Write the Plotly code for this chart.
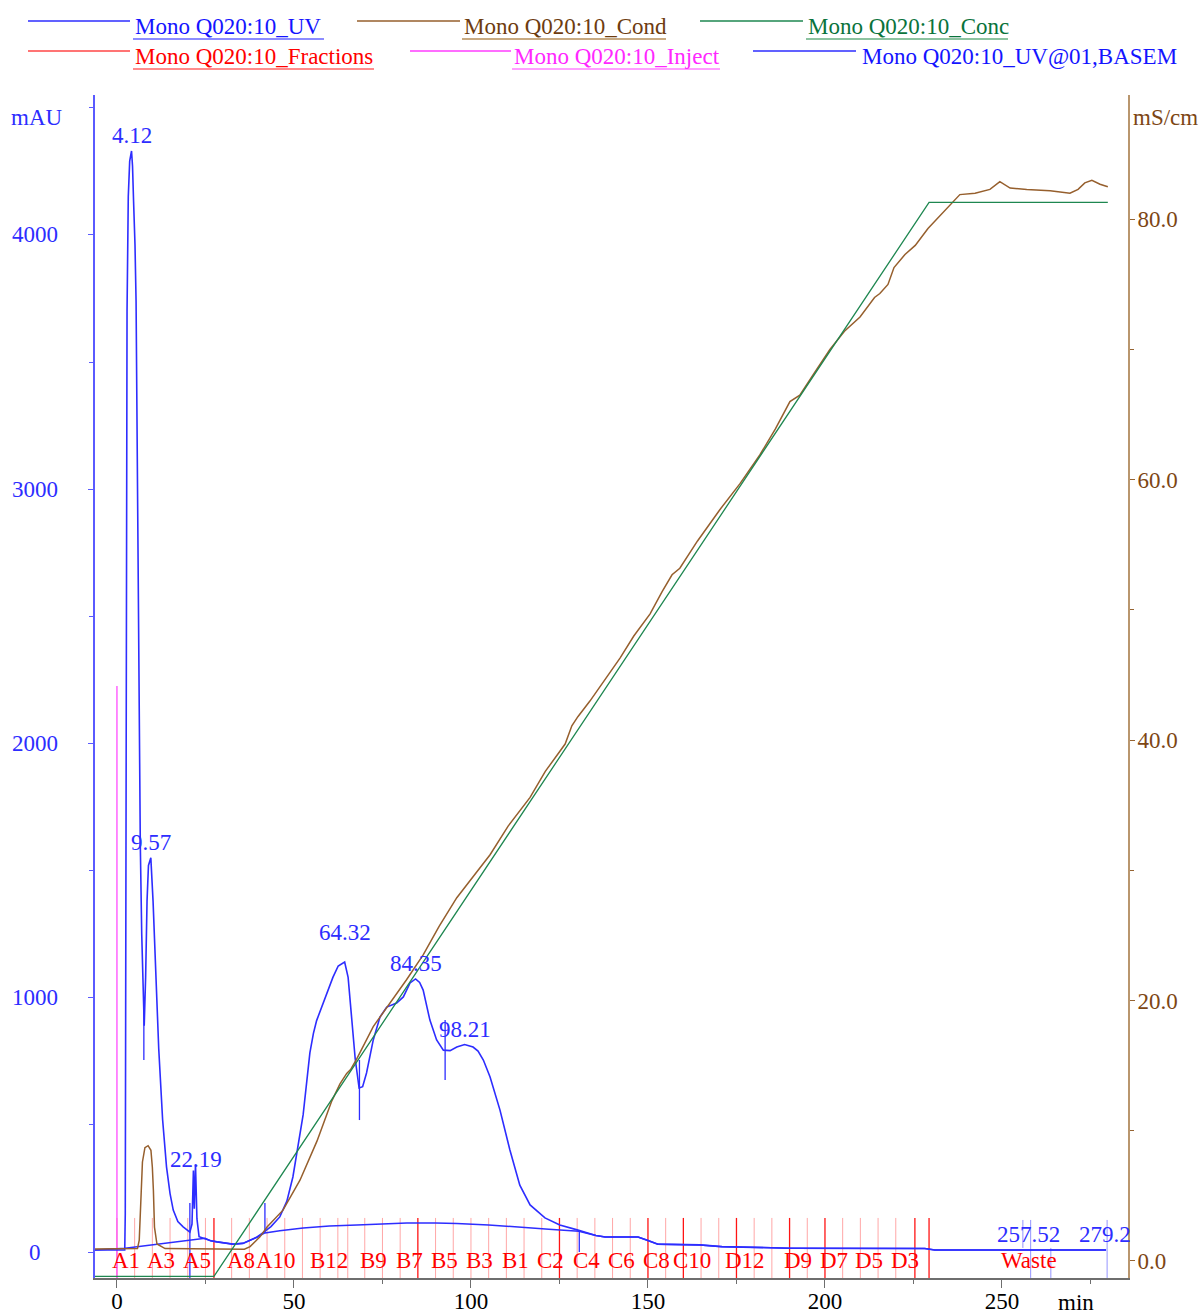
import numpy as np
import plotly.graph_objects as go

# ---------------- run data: Mono Q 5/50 GL, 280 nm ----------------
# UV absorbance (min, mAU)
uv_time = [-6.2, 2.2, 2.35, 2.5, 2.65, 2.85, 3.2, 3.6, 4.12, 4.4, 4.7, 5.1, 5.4, 5.8, 6.2,
           6.6, 7.0, 7.4, 7.7, 8.1, 8.5, 8.9, 9.57, 10.2, 11.0, 11.8, 12.9, 14.0, 15.0, 15.9,
           17.2, 18.7, 20.6, 21.2, 21.6, 21.85, 22.19, 22.6, 23.2, 24.9, 26.5, 28.2, 30.5,
           32.8, 35.6, 37.6, 39.5, 41.2, 43.5, 46.0, 48.0, 49.7, 51.0, 51.7, 52.6, 54.5, 55.5,
           56.4, 57.8, 59.5, 61.0, 62.5, 64.32, 65.3, 66.2, 67.3, 68.4, 69.4, 70.5, 72.4, 74.3,
           76.2, 79.0, 80.9, 82.8, 84.35, 85.5, 86.5, 88.4, 90.3, 92.2, 94.1, 96.0, 98.21,
           100.6, 102.0, 103.5, 105.4, 108.2, 111.0, 113.8, 116.7, 120.9, 125.1, 130.0, 135.3,
           137.9, 147.2, 150.0, 152.8, 164.7, 170.9, 190.1, 228.2, 231.0, 279.4]
uv_mau = [8, 8, 150, 1000, 2500, 3700, 4150, 4290, 4330, 4270, 4130, 3960, 3740, 3000, 2200,
          1600, 1250, 1000, 890, 1080, 1380, 1520, 1550, 1380, 1100, 800, 520, 335, 230, 165,
          120, 99, 78, 110, 320, 170, 345, 130, 60, 52, 44, 40, 35,
          31, 34, 45, 58, 75, 100, 138, 200, 295, 400, 468, 540, 783, 860,
          910, 960, 1020, 1080, 1125, 1140, 1080, 950, 760, 645, 650, 704, 834, 924,
          963, 979, 1003, 1058, 1074, 1060, 1030, 912, 834, 794, 792, 806, 816,
          806, 790, 755, 688, 558, 401, 263, 185, 134, 106, 87, 65,
          59, 59, 45, 31, 28, 21, 15, 14, 8, 8]

# Integration baseline (min, mAU)
base_time = [-6.2, 2.3, 24.9, 26.5, 28.2, 30.5, 32.8, 35.6, 37.6, 39.5, 41.8, 46.0, 52.6, 60.0,
             67.8, 75.0, 81.9, 90.0, 96.0, 105.0, 114.7, 122.0, 130.5, 135.3, 137.9, 147.2,
             150.0, 152.8, 164.7, 170.9, 190.1, 228.2, 231.0, 279.4]
base_mau = [8, 15, 54, 44, 40, 35, 31, 34, 45, 58, 75, 84, 94, 102,
            106, 111, 114, 114, 112, 106, 98, 90, 82, 65, 59, 59,
            45, 31, 28, 21, 15, 14, 8, 8]

# Conductivity (min, mS/cm)
cond_time = [-6.2, 5.8, 6.3, 6.8, 7.2, 7.9, 8.8, 9.6, 10.0, 10.3, 10.6, 11.3, 13.6, 36.0, 37.6,
             40.4, 42.4, 46.9, 51.7, 56.5, 60.7, 63.0, 64.9, 66.0, 67.7, 72.4, 77.1, 81.8, 86.5,
             91.0, 96.0, 100.5, 105.4, 110.5, 116.7, 121.0, 126.6, 128.5, 130.2, 133.6, 138.0,
             142.1, 146.0, 150.6, 154.0, 156.8, 159.0, 164.0, 170.3, 176.0, 181.6, 186.0, 190.1,
             192.9, 197.0, 201.4, 205.5, 209.9, 214.0, 215.5, 217.8, 219.5, 222.6, 225.5, 229.1,
             233.9, 238.1, 242.4, 246.6, 249.4, 252.3, 257.0, 263.6, 269.2, 271.5, 273.4, 275.4,
             277.7, 279.9]
cond_ms = [0.92, 0.95, 1.6, 4.7, 7.6, 8.7, 8.85, 8.5, 7.2, 5.4, 2.6, 1.3, 0.95, 0.9, 1.1,
           1.85, 2.6, 3.9, 6.2, 9.2, 12.3, 13.6, 14.4, 14.7, 15.5, 18.0, 19.8, 21.6, 23.5,
           25.7, 27.9, 29.5, 31.2, 33.4, 35.6, 37.6, 39.7, 41.1, 41.8, 43.0, 44.7,
           46.3, 48.0, 49.7, 51.4, 52.7, 53.2, 55.3, 57.7, 59.7, 61.9, 63.9, 66.0,
           66.5, 68.2, 70.0, 71.4, 72.5, 74.0, 74.3, 75.0, 76.3, 77.3, 78.0, 79.3,
           80.7, 81.9, 82.0, 82.3, 82.9, 82.4, 82.3, 82.2, 82.0, 82.3, 82.8, 83.0,
           82.7, 82.5]

# Gradient concentration (min, %B)
conc_time = [-6.2, 27.4, 229.4, 279.9]
conc_pct = [0, 0, 100, 100]

# Injection mark (min)
inject_time = [0.0]

# Fraction collection: start time of each fraction (min) and its tube
frac_start = [0, 5, 10, 15, 20, 25, 27.4, 32.4, 37.4, 42.4, 47.4, 52.4, 57.4, 62.4, 65.2,
              70, 75, 80, 85, 90, 95, 100, 105, 110, 115, 120, 125, 130, 135, 140, 145, 150,
              155, 160, 165, 170, 175, 180, 185, 190, 195, 200, 205, 210, 215, 220, 225.4, 229.4]
frac_names = ([f"A{i}" for i in range(1, 13)] + [f"B{i}" for i in range(12, 0, -1)]
              + [f"C{i}" for i in range(1, 13)] + [f"D{i}" for i in range(12, 1, -1)] + ["Waste"])
frac_labelled = ["A1", "A3", "A5", "A8", "A10", "B12", "B9", "B7", "B5", "B3", "B1", "C2", "C4",
                 "C6", "C8", "C10", "D12", "D9", "D7", "D5", "D3", "Waste"]
frac_strong = [27.4, 85, 125, 150, 160, 175, 190, 200, 225.4, 229.4]

# Peak table: retention times and drop-line marks (min, top mAU, bottom mAU)
peak_rt = [4.12, 9.57, 22.19, 64.32, 84.35, 98.21, 257.52, 279.2]
mark_time = [7.6, 20.6, 41.8, 68.5, 92.7, 130.6]
mark_top = [991, 193, 193, 755, 912, 87]
mark_bottom = [755, -102, 75, 519, 676, 0]
tail_mark_time = [255.9, 258.1, 263.8, 279.7]
tail_mark_top = [126, 126, 16, 126]
tail_mark_bottom = [16, -102, -102, -102]

# Axis tick values
uv_ticks = [0, 1000, 2000, 3000, 4000]
cond_ticks = [0, 20, 40, 60, 80]
time_ticks = [0, 50, 100, 150, 200, 250]

# ---------------- layout constants ----------------
W, H = 1202, 1315
ML, MR, MT, MB = 95, 74, 95, 37
PW, PH = W - ML - MR, H - MT - MB
X_RANGE = [-6.2, 285.6]
UV_RANGE = [-102.2, 4550]
COND_RANGE = [-1.31, 89.55]
CONC_RANGE = [-0.15, 110.0]
FONT = "Liberation Serif"
FS = 23

UV_C = "rgb(45,45,255)"
COND_C = "rgb(150,95,45)"
CONC_C = "rgb(30,135,80)"
FRAC_C = "rgb(255,0,0)"
INJ_C = "rgb(255,60,255)"
COND_TXT = "rgb(125,70,20)"

# extra vertical offset (px) for a few crowded peak labels
LABEL_SHIFT = {22.19: -11, 64.32: 14}


def px_x(px):
    return (px - ML) / PW


def px_y(py):
    return (H - MB - py) / PH


def seg(xs, y0s, y1s):
    xx, yy = [], []
    for x, a, b in zip(xs, y0s, y1s):
        xx += [x, x, None]
        yy += [a, b, None]
    return xx, yy


fig = go.Figure()

# fraction marks
frac_hi = 134
weak = [s for s in frac_start if s not in frac_strong]
fx, fy = seg(weak, [UV_RANGE[0]] * len(weak), [frac_hi] * len(weak))
fig.add_trace(go.Scatter(x=fx, y=fy, mode="lines", line=dict(color="rgba(255,0,0,0.35)", width=1),
                         hoverinfo="skip", showlegend=False))
fx, fy = seg(frac_strong, [UV_RANGE[0]] * len(frac_strong), [frac_hi] * len(frac_strong))
fig.add_trace(go.Scatter(x=fx, y=fy, mode="lines", line=dict(color="rgb(255,20,20)", width=1.3),
                         hoverinfo="skip", showlegend=False))

# injection mark
ix, iy = seg(inject_time, [UV_RANGE[0]], [2226])
fig.add_trace(go.Scatter(x=ix, y=iy, mode="lines", line=dict(color=INJ_C, width=1.2),
                         hoverinfo="skip", showlegend=False))

# gradient and conductivity
fig.add_trace(go.Scatter(x=conc_time, y=conc_pct, yaxis="y3", mode="lines",
                         line=dict(color=CONC_C, width=1.3), showlegend=False))
fig.add_trace(go.Scatter(x=cond_time, y=cond_ms, yaxis="y2", mode="lines",
                         line=dict(color=COND_C, width=1.5), showlegend=False))

# baseline, drop lines, UV
fig.add_trace(go.Scatter(x=base_time, y=base_mau, mode="lines",
                         line=dict(color=UV_C, width=1.5), showlegend=False))
mx, my = seg(mark_time, mark_top, mark_bottom)
fig.add_trace(go.Scatter(x=mx, y=my, mode="lines", line=dict(color=UV_C, width=1.3),
                         hoverinfo="skip", showlegend=False))
tx, ty = seg(tail_mark_time, tail_mark_top, tail_mark_bottom)
fig.add_trace(go.Scatter(x=tx, y=ty, mode="lines", line=dict(color="rgba(60,60,255,0.55)", width=1),
                         hoverinfo="skip", showlegend=False))
fig.add_trace(go.Scatter(x=uv_time, y=uv_mau, mode="lines",
                         line=dict(color=UV_C, width=1.6), showlegend=False))

ann = []

# peak retention-time labels
for rt in peak_rt:
    ann.append(dict(x=rt, y=float(np.interp(rt, uv_time, uv_mau)), xref="x", yref="y",
                    text=f"{rt:.2f}".rstrip("0") if rt == 279.2 else f"{rt:.2f}",
                    showarrow=False, xanchor="center", yanchor="bottom",
                    yshift=1 + LABEL_SHIFT.get(rt, 0),
                    font=dict(family=FONT, size=FS, color=UV_C)))

# fraction tube labels, centred in each fraction
frac_end = frac_start[1:] + [X_RANGE[1]]
for name, s, e in zip(frac_names, frac_start, frac_end):
    if name in frac_labelled:
        ann.append(dict(x=(s + e) / 2, y=-35, xref="x", yref="y", text=name, showarrow=False,
                        xanchor="center", yanchor="middle",
                        font=dict(family=FONT, size=FS, color=FRAC_C)))

# left axis tick labels (centred column)
for v in uv_ticks:
    ann.append(dict(x=px_x(35), y=v, xref="paper", yref="y", text=str(v), showarrow=False,
                    xanchor="center", yanchor="middle", font=dict(family=FONT, size=FS, color=UV_C)))

# axis units
ann.append(dict(x=px_x(37), y=px_y(118), xref="paper", yref="paper", text="mAU", showarrow=False,
                xanchor="center", yanchor="middle", font=dict(family=FONT, size=FS, color=UV_C)))
ann.append(dict(x=px_x(1165), y=px_y(118), xref="paper", yref="paper", text="mS/cm", showarrow=False,
                xanchor="center", yanchor="middle", font=dict(family=FONT, size=FS, color=COND_TXT)))
ann.append(dict(x=px_x(1076), y=px_y(1302), xref="paper", yref="paper", text="min", showarrow=False,
                xanchor="center", yanchor="middle", font=dict(family=FONT, size=FS, color="black")))

# curve key: (label, line x0, line x1, text x, underline end, row, line, text, underline colours)
key = [
    ("Mono Q020:10_UV", 28, 130, 133, 324, 0, UV_C, "rgb(20,20,255)", "rgb(140,140,255)"),
    ("Mono Q020:10_Cond", 357, 460, 462, 666, 0, COND_C, "rgb(110,60,15)", "rgb(200,170,130)"),
    ("Mono Q020:10_Conc", 700, 803, 806, 1008, 0, CONC_C, "rgb(10,115,60)", "rgb(140,195,160)"),
    ("Mono Q020:10_Fractions", 28, 130, 133, 374, 1, "rgb(255,70,70)", "rgb(255,0,0)", "rgb(255,140,140)"),
    ("Mono Q020:10_Inject", 410, 511, 512, 720, 1, INJ_C, "rgb(255,40,255)", "rgb(255,160,255)"),
    ("Mono Q020:10_UV@01,BASEM", 753, 856, 860, None, 1, UV_C, "rgb(20,20,255)", None),
]
row_line = [21, 51]
row_text = [27, 57]
row_under = [39, 69]
shapes = []
for label, x0, x1, xt, xu, row, lc, tc, uc in key:
    shapes.append(dict(type="line", xref="paper", yref="paper", x0=px_x(x0), x1=px_x(x1),
                       y0=px_y(row_line[row]), y1=px_y(row_line[row]), line=dict(color=lc, width=1.5)))
    ann.append(dict(x=px_x(xt), y=px_y(row_text[row]), xref="paper", yref="paper", text=label,
                    showarrow=False, xanchor="left", yanchor="middle",
                    font=dict(family=FONT, size=FS, color=tc)))
    if xu is not None:
        shapes.append(dict(type="line", xref="paper", yref="paper", x0=px_x(xt), x1=px_x(xu),
                           y0=px_y(row_under[row]), y1=px_y(row_under[row]),
                           line=dict(color=uc, width=2)))

fig.update_layout(
    width=W, height=H, margin=dict(l=ML, r=MR, t=MT, b=MB, autoexpand=False),
    paper_bgcolor="white", plot_bgcolor="white",
    font=dict(family=FONT, size=FS, color="black"),
    showlegend=False,
    xaxis=dict(range=X_RANGE, tickvals=time_ticks, showgrid=False, zeroline=False, automargin=False,
               showline=True, linecolor="rgb(110,110,110)", linewidth=2,
               ticks="outside", ticklen=8, tickcolor="rgb(110,110,110)", tickwidth=1,
               ticklabelstandoff=-7,
               minor=dict(dtick=25, tick0=0, ticks="outside", ticklen=4, tickcolor="rgb(110,110,110)"),
               tickfont=dict(family=FONT, size=FS, color="black")),
    yaxis=dict(range=UV_RANGE, tickvals=uv_ticks, showticklabels=False, showgrid=False,
               zeroline=False, showline=True, linecolor="rgb(90,90,255)", linewidth=1.5,
               automargin=False, ticks="outside", ticklen=5, tickcolor="rgb(90,90,255)",
               minor=dict(dtick=500, tick0=0, ticks="outside", ticklen=4, tickcolor="rgb(90,90,255)")),
    yaxis2=dict(range=COND_RANGE, overlaying="y", side="right", tickvals=cond_ticks,
                ticktext=[f"{v:.1f}" for v in cond_ticks], showgrid=False, zeroline=False,
                showline=True, linecolor="rgb(185,150,110)", linewidth=2, automargin=False,
                ticks="outside", ticklen=5, tickcolor="rgb(150,100,50)", ticklabelstandoff=-2,
                minor=dict(dtick=10, tick0=0, ticks="outside", ticklen=4, tickcolor="rgb(150,100,50)"),
                tickfont=dict(family=FONT, size=FS, color=COND_TXT)),
    yaxis3=dict(range=CONC_RANGE, overlaying="y", visible=False),
    annotations=ann, shapes=shapes,
)

fig.write_html("out.html")
